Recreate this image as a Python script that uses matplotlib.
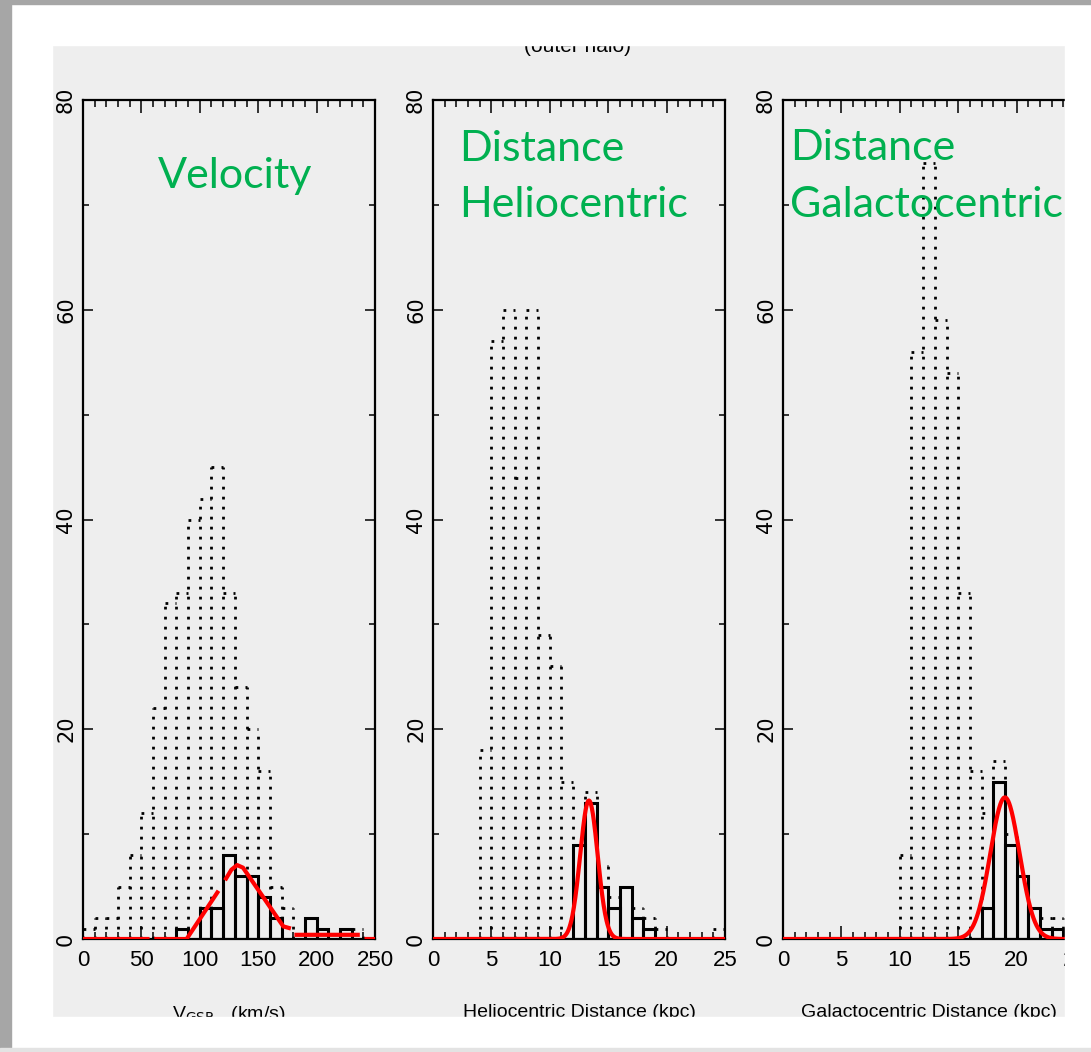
import numpy as np
import matplotlib
matplotlib.use('Agg')
import matplotlib.pyplot as plt
from matplotlib.patches import Rectangle

W, H = 1091, 1052
plt.rcParams['font.family'] = ['DejaVu Sans']

# velocity panel (bins of 10 km/s)
vel_edges = np.arange(0, 260, 10)
vel_all = [1, 2, 2, 5, 8, 12, 22, 32, 33, 40, 42, 45, 33, 24, 20, 16, 5, 3, 0, 2, 1, 0, 1, 1, 0]
vel_sub = [0, 0, 0, 0, 0, 0, 0, 0, 1, 0, 3, 3, 8, 6, 6, 4, 2, 0, 0, 2, 1, 0, 1, 0, 0]
# red line hand drawn over the velocity panel (nan = gap)
vel_fit_x = [0, 57, np.nan, 61, 88.7, 116, np.nan, 121.6, 127, 132, 137, 171.5, 178, np.nan, 181, 237, np.nan, 241, 250]
vel_fit_y = [0, 0, np.nan, 0, 0, 4.6, np.nan, 5.6, 6.6, 7.05, 6.8, 1.2, 1.0, np.nan, 0.4, 0.4, np.nan, 0, 0]

# heliocentric distance (bins of 1 kpc)
hel_edges = np.arange(0, 26, 1)
hel_all = [0, 0, 0, 0, 18, 57, 60, 44, 60, 29, 26, 15, 9, 14, 7, 4, 5, 3, 2, 1, 0, 0, 0, 0, 1]
hel_sub = [0, 0, 0, 0, 0, 0, 0, 0, 0, 0, 0, 0, 9, 13, 5, 3, 5, 2, 1, 0, 0, 0, 0, 0, 0]
hel_fit = dict(mu=13.35, sigma=0.75, amp=13.2)

# galactocentric distance (bins of 1 kpc)
gal_edges = np.arange(0, 26, 1)
gal_all = [0, 0, 0, 0, 0, 0, 0, 0, 0, 0, 8, 56, 74, 59, 54, 33, 16, 12, 17, 10, 6, 3, 2, 2, 1]
gal_sub = [0, 0, 0, 0, 0, 0, 0, 0, 0, 0, 0, 0, 0, 0, 0, 0, 0, 3, 15, 9, 6, 3, 1, 1, 0]
gal_fit = dict(mu=19.0, sigma=1.25, amp=13.5)

panel_left = [83, 433, 783]
panel_w = 292
panel_top, panel_bot = 100, 939
xlabels = ['V$_{\\rm GSR}$   (km/s)', 'Heliocentric Distance (kpc)', 'Galactocentric Distance (kpc)']
green_labels = [['Velocity'], ['Distance', 'Heliocentric'], ['Distance', 'Galactocentric']]
green_pos = [[(158, 188)], [(459, 161), (459, 217)], [(790, 160), (790, 217)]]

tickfont = ['Liberation Sans', 'DejaVu Sans']
dots = (0, (1, 2.6))


def gauss(x, mu, sigma, amp):
    return amp * np.exp(-0.5 * ((x - mu) / sigma) ** 2)


def draw_hist(ax, edges, allc, subc):
    allc = np.array(allc)
    subc = np.array(subc)
    left, right = edges[:-1], edges[1:]
    nz = allc > 0
    ax.hlines(allc[nz], left[nz], right[nz], colors='k', linestyles=[dots], lw=2)
    padded = np.concatenate([[0], allc, [0]])
    vh = np.maximum(padded[:-1], padded[1:])
    ok = vh > 0
    ax.vlines(edges[ok], 0, vh[ok], colors='k', linestyles=[dots], lw=2)
    nz = subc > 0
    ax.bar(left[nz], subc[nz], width=(right - left)[nz], align='edge', fill=False,
           edgecolor='k', lw=2.2)


fig = plt.figure(figsize=(W / 100, H / 100), dpi=100)
fig.add_artist(Rectangle((52 / W, 1 - 1017 / H), (1065 - 52) / W, (1017 - 45) / H,
                         transform=fig.transFigure, color='#eeeeee', zorder=-5))

data = [(vel_edges, vel_all, vel_sub), (hel_edges, hel_all, hel_sub), (gal_edges, gal_all, gal_sub)]
for i in range(3):
    l = panel_left[i]
    ax = fig.add_axes([l / W, 1 - panel_bot / H, panel_w / W, (panel_bot - panel_top) / H])
    ax.set_facecolor('#eeeeee')
    edges, allc, subc = data[i]
    draw_hist(ax, edges, allc, subc)
    if i == 0:
        ax.plot(vel_fit_x, vel_fit_y, color='red', lw=3, solid_capstyle='butt', zorder=5)
        ax.set_xlim(0, 250)
        ax.set_xticks(np.arange(0, 251, 50))
        ax.set_xticks(np.arange(0, 251, 10), minor=True)
    else:
        p = hel_fit if i == 1 else gal_fit
        xx = np.linspace(0, 25, 600)
        ax.plot(xx, gauss(xx, **p), color='red', lw=3, zorder=5)
        ax.set_xlim(0, 25)
        ax.set_xticks(np.arange(0, 26, 5))
        ax.set_xticks(np.arange(0, 26, 1), minor=True)
    ax.set_ylim(0, 80)
    ax.set_yticks(np.arange(0, 81, 20))
    ax.set_yticks(np.arange(0, 81, 10), minor=True)
    ax.tick_params(which='both', direction='in', top=True, right=True, width=1.1, color='k')
    ax.tick_params(axis='x', which='major', length=9.5, pad=8, labelsize=16,
                   labelfontfamily=tickfont)
    ax.tick_params(axis='x', which='minor', length=5)
    ax.tick_params(axis='y', which='major', length=7.5, pad=5, labelsize=15,
                   labelrotation=90)
    ax.tick_params(axis='y', which='minor', length=4.3)
    for t in ax.get_yticklabels():
        t.set_va('center')
    for s in ax.spines.values():
        s.set_linewidth(1.6)
    ax.set_xlabel(xlabels[i], family=tickfont, fontsize=14, labelpad=24)

# title of the original figure, mostly cut off by the crop
fig.text(577 / W, 1 - 52 / H, '(outer halo)', family=tickfont, fontsize=15,
         ha='center', va='baseline')

# white slide area around the cropped picture
white = '#ffffff'
for (x0, y0, x1, y1) in [(0, 0, W, 45), (0, 1017, W, H), (1065, 0, W, H), (0, 0, 52, H)]:
    fig.add_artist(Rectangle((x0 / W, 1 - y1 / H), (x1 - x0) / W, (y1 - y0) / H,
                             transform=fig.transFigure, color=white, zorder=20))
# window border
for (x0, y0, x1, y1, c) in [(0, 0, 11, H, '#a6a6a6'), (0, 0, W, 4, '#a6a6a6'),
                            (0, 1048, W, H, '#e3e3e3')]:
    fig.add_artist(Rectangle((x0 / W, 1 - y1 / H), (x1 - x0) / W, (y1 - y0) / H,
                             transform=fig.transFigure, color=c, zorder=21))

for lines, pos in zip(green_labels, green_pos):
    for txt, (x, y) in zip(lines, pos):
        fig.text(x / W, 1 - y / H, txt, color='#00b050', family=['Lato', 'DejaVu Sans'],
                 fontsize=31, ha='left', va='baseline', zorder=30)

fig.savefig('out.png', dpi=100)
